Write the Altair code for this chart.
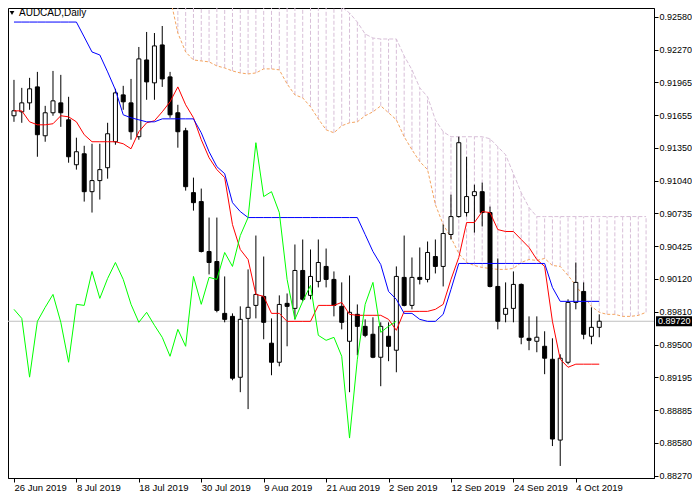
import altair as alt
import pandas as pd

# ---------------- data ----------------
symbol_title = "AUDCAD,Daily"

opens = [0.91650, 0.91687, 0.91771, 0.91921, 0.91462, 0.91678, 0.91771, 0.91612, 0.91190, 0.91293,
         0.90937, 0.91041, 0.91162, 0.91406, 0.91846, 0.91771, 0.91453, 0.92174, 0.91959, 0.92315,
         0.92015, 0.91678, 0.91509, 0.90928, 0.90844, 0.90375, 0.90281, 0.89794, 0.89766, 0.89194,
         0.89747, 0.89869, 0.89953, 0.89514, 0.89335, 0.89888, 0.89841, 0.90197, 0.89963, 0.90094,
         0.90235, 0.90113, 0.89860, 0.89532, 0.89785, 0.89672, 0.89598, 0.89382, 0.89579, 0.89448,
         0.90132, 0.89869, 0.90132, 0.90113, 0.90328, 0.90235, 0.90535, 0.90703, 0.90741, 0.90900,
         0.90937, 0.90741, 0.90047, 0.89785, 0.89841, 0.90066, 0.89560, 0.89532, 0.89485, 0.89363,
         0.88604, 0.89335, 0.89897, 0.90000, 0.89579, 0.89663]
highs = [0.91987, 0.91912, 0.92006, 0.92062, 0.91743, 0.92071, 0.92034, 0.91828, 0.91444, 0.91368,
         0.91387, 0.91387, 0.91584, 0.91903, 0.91931, 0.91996, 0.92296, 0.92437, 0.92427, 0.92493,
         0.92062, 0.91753, 0.91537, 0.91069, 0.90966, 0.90694, 0.90694, 0.90141, 0.89794, 0.89860,
         0.90207, 0.90525, 0.90328, 0.89747, 0.89963, 0.89981, 0.90441, 0.90488, 0.90394, 0.90488,
         0.90403, 0.90188, 0.90085, 0.90150, 0.89878, 0.89738, 0.89757, 0.89710, 0.89710, 0.90235,
         0.90525, 0.90319, 0.90413, 0.90469, 0.90488, 0.90628, 0.90909, 0.91453, 0.91265, 0.91003,
         0.91022, 0.90797, 0.90310, 0.90085, 0.90188, 0.90075, 0.89766, 0.89766, 0.89626, 0.89560,
         0.89410, 0.89926, 0.90272, 0.90085, 0.89851, 0.89785]
lows = [0.91593, 0.91584, 0.91706, 0.91265, 0.91406, 0.91650, 0.91546, 0.91209, 0.91144, 0.90844,
        0.90741, 0.90863, 0.91059, 0.91378, 0.91706, 0.91425, 0.91425, 0.91800, 0.91800, 0.91921,
        0.91631, 0.91350, 0.90947, 0.90759, 0.90366, 0.90160, 0.89804, 0.89710, 0.89166, 0.89054,
        0.88895, 0.89747, 0.89551, 0.89213, 0.89297, 0.89485, 0.89738, 0.89907, 0.89926, 0.90038,
        0.90038, 0.89766, 0.89644, 0.89054, 0.89401, 0.89570, 0.89373, 0.89110, 0.89345, 0.89241,
        0.89860, 0.89832, 0.90066, 0.90085, 0.90169, 0.90047, 0.90488, 0.90694, 0.90703, 0.90553,
        0.90610, 0.90038, 0.89644, 0.89710, 0.89710, 0.89504, 0.89448, 0.89429, 0.89223, 0.88548,
        0.88361, 0.89316, 0.89832, 0.89551, 0.89504, 0.89570]
closes = [0.91697, 0.91771, 0.91903, 0.91472, 0.91678, 0.91790, 0.91678, 0.91265, 0.91312, 0.90937,
          0.91041, 0.91144, 0.91481, 0.91865, 0.91781, 0.91500, 0.92184, 0.91968, 0.92306, 0.91996,
          0.91659, 0.91500, 0.90984, 0.90834, 0.90375, 0.90272, 0.89822, 0.89738, 0.89185, 0.89738,
          0.89851, 0.89972, 0.89710, 0.89335, 0.89878, 0.89860, 0.90197, 0.89926, 0.90141, 0.90272,
          0.90113, 0.89869, 0.89710, 0.89804, 0.89672, 0.89588, 0.89382, 0.89672, 0.89485, 0.90141,
          0.89869, 0.90132, 0.90113, 0.90366, 0.90235, 0.90544, 0.90703, 0.91397, 0.90891, 0.90937,
          0.90741, 0.90047, 0.89720, 0.89841, 0.90066, 0.89570, 0.89541, 0.89570, 0.89373, 0.88614,
          0.89373, 0.89897, 0.90085, 0.89598, 0.89663, 0.89720]

tenkan = [0.91696, 0.91696, 0.91593, 0.91565, 0.91565, 0.91575, 0.91650, 0.91640, 0.91593, 0.91472,
          0.91406, 0.91406, 0.91406, 0.91406, 0.91387, 0.91340, 0.91500, 0.91584, 0.91603, 0.91687,
          0.91781, 0.91921, 0.91753, 0.91631, 0.91425, 0.91256, 0.91144, 0.91069, 0.90628, 0.90394,
          0.90300, 0.89972, 0.89954, 0.89794, 0.89794, 0.89719, 0.89719, 0.89719, 0.89719, 0.89869,
          0.89869, 0.89869, 0.89897, 0.89785, 0.89776, 0.89776, 0.89776, 0.89776, 0.89738, 0.89635,
          0.89813, 0.89813, 0.89813, 0.89813, 0.89832, 0.89879, 0.90113, 0.90319, 0.90647, 0.90647,
          0.90750, 0.90741, 0.90581, 0.90563, 0.90563, 0.90488, 0.90413, 0.90300, 0.90235, 0.89719,
          0.89363, 0.89288, 0.89317, 0.89317, 0.89317, 0.89317]
kijun = [0.92530, 0.92530, 0.92530, 0.92530, 0.92530, 0.92530, 0.92530, 0.92530, 0.92530, 0.92390,
         0.92249, 0.92221, 0.92062, 0.91893, 0.91659, 0.91631, 0.91612, 0.91593, 0.91593, 0.91621,
         0.91621, 0.91621, 0.91621, 0.91621, 0.91490, 0.91312, 0.91172, 0.91106, 0.90834, 0.90750,
         0.90694, 0.90694, 0.90694, 0.90694, 0.90694, 0.90694, 0.90694, 0.90694, 0.90694, 0.90694,
         0.90694, 0.90694, 0.90694, 0.90694, 0.90694, 0.90535, 0.90375, 0.90253, 0.90000, 0.89926,
         0.89794, 0.89794, 0.89738, 0.89719, 0.89719, 0.89785, 0.90019, 0.90263, 0.90263, 0.90263,
         0.90263, 0.90263, 0.90263, 0.90263, 0.90263, 0.90263, 0.90263, 0.90263, 0.90263, 0.90038,
         0.89907, 0.89907, 0.89907, 0.89907, 0.89907, 0.89907]
chikou = [0.89832, 0.89747, 0.89195, 0.89719, 0.89851, 0.89972, 0.89710, 0.89335, 0.89879, 0.89869,
          0.90188, 0.89935, 0.90122, 0.90272, 0.90113, 0.89879, 0.89710, 0.89804, 0.89682, 0.89569,
          0.89391, 0.89644, 0.89485, 0.90141, 0.89879, 0.90132, 0.90113, 0.90366, 0.90235, 0.90525,
          0.90694, 0.91397, 0.90891, 0.90937, 0.90741, 0.90113, 0.89738, 0.89907, 0.90057, 0.89588,
          0.89541, 0.89569, 0.89391, 0.88623, 0.89363, 0.89879, 0.90085, 0.89616, 0.89673, 0.89720]

span_start = 20
span_a = [0.92765, 0.92427, 0.92249, 0.92174, 0.92165, 0.92156, 0.92118, 0.92099, 0.92071, 0.92052,
          0.92043, 0.92052, 0.92090, 0.92090, 0.92081, 0.91949, 0.91846, 0.91818, 0.91734, 0.91621,
          0.91518, 0.91490, 0.91556, 0.91584, 0.91593, 0.91650, 0.91687, 0.91743, 0.91678, 0.91612,
          0.91453, 0.91331, 0.91219, 0.91144, 0.90816, 0.90628, 0.90506, 0.90357, 0.90272, 0.90244,
          0.90225, 0.90216, 0.90207, 0.90207, 0.90216, 0.90272, 0.90300, 0.90291, 0.90310, 0.90244,
          0.90235, 0.90150, 0.90057, 0.89954, 0.89860, 0.89804, 0.89785, 0.89785, 0.89766, 0.89766,
          0.89775, 0.89804]
span_b = [0.92877, 0.92877, 0.92877, 0.92877, 0.92877, 0.92877, 0.92877, 0.92877, 0.92877, 0.92877,
          0.92877, 0.92877, 0.92783, 0.92746, 0.92708, 0.92690, 0.92680, 0.92671, 0.92671, 0.92671,
          0.92671, 0.92671, 0.92671, 0.92615, 0.92530, 0.92418, 0.92380, 0.92371, 0.92371, 0.92371,
          0.92212, 0.92081, 0.91912, 0.91828, 0.91612, 0.91500, 0.91453, 0.91453, 0.91453, 0.91453,
          0.91453, 0.91434, 0.91359, 0.91284, 0.91106, 0.90928, 0.90788, 0.90703, 0.90703, 0.90703,
          0.90703, 0.90703, 0.90703, 0.90703, 0.90703, 0.90703, 0.90703, 0.90703, 0.90703, 0.90703,
          0.90703, 0.90703]

date_bars = [0, 8, 16, 24, 32, 40, 48, 56, 64, 72]
date_labels = ["26 Jun 2019", "8 Jul 2019", "18 Jul 2019", "30 Jul 2019", "9 Aug 2019",
               "21 Aug 2019", "2 Sep 2019", "12 Sep 2019", "24 Sep 2019", "4 Oct 2019"]
price_ticks = [0.92580, 0.92270, 0.91965, 0.91655, 0.91350, 0.91040, 0.90735, 0.90425,
               0.90120, 0.89810, 0.89500, 0.89195, 0.88885, 0.88580, 0.88270]
last_price = 0.89720

# ---------------- tables ----------------
n = len(opens)
candles = pd.DataFrame({"bar": list(range(n)), "open": opens, "high": highs,
                        "low": lows, "close": closes})
candles["fill"] = ["white" if c >= o else "black" for o, c in zip(opens, closes)]
ind = pd.DataFrame({"bar": list(range(n)), "tenkan": tenkan, "kijun": kijun})
chik = pd.DataFrame({"bar": list(range(len(chikou))), "chikou": chikou})
cloud = pd.DataFrame({"bar": list(range(span_start, span_start + len(span_a))),
                      "a": span_a, "b": span_b})
price = pd.DataFrame({"p": [last_price]})
one = pd.DataFrame({"t": [symbol_title]})

# ---------------- styling ----------------
W, H = 646, 470
RIGHT = 38
FONT = "Liberation Sans"
FS = 9
xscale = alt.Scale(domain=[-0.125, 81.375], nice=False, zero=False)
yscale = alt.Scale(domain=[0.88248, 0.92662], nice=False, zero=False)

labels_js = "[" + ",".join("'" + s + "'" for s in date_labels) + "]"
bars_js = "[" + ",".join(str(b) for b in date_bars) + "]"
xaxis = alt.Axis(values=date_bars, labelExpr=labels_js + "[indexof(" + bars_js + ", datum.value)]",
                 orient="bottom", tickSize=4, labelPadding=0, labelAlign="left",
                 labelBaseline="top", labelFont=FONT, labelFontSize=9.5, labelColor="black",
                 domainColor="black", tickColor="black", grid=False, title=None,
                 labelOverlap=False, labelFlush=False, labelBound=False)
yaxis = alt.Axis(values=price_ticks, format=".5f", orient="right", tickSize=4, labelPadding=1,
                 labelFont=FONT, labelFontSize=FS, labelColor="black", domainColor="black",
                 tickColor="black", grid=False, title=None, labelOverlap=False,
                 labelFlush=False, labelBound=False)


def X(f="bar"):
    return alt.X(f + ":Q", scale=xscale, axis=xaxis)


def Y(f):
    return alt.Y(f + ":Q", scale=yscale, axis=yaxis)


THISTLE = "#D8BFD8"

hatch = alt.Chart(cloud).mark_rule(color=THISTLE, strokeDash=[4, 2], strokeWidth=1, clip=True).encode(
    x=X(), y=Y("a"), y2="b:Q")
line_a = alt.Chart(cloud).mark_line(color="#F4A460", strokeDash=[3, 2], strokeWidth=1, clip=True).encode(
    x=X(), y=Y("a"))
line_b = alt.Chart(cloud).mark_line(color=THISTLE, strokeDash=[4, 2], strokeWidth=1, clip=True).encode(
    x=X(), y=Y("b"))
pline = alt.Chart(price).mark_rule(color="#C0C0C0", strokeWidth=1, clip=True).encode(y=Y("p"))
wicks = alt.Chart(candles).mark_rule(color="black", strokeWidth=1, clip=True).encode(
    x=X(), y=Y("low"), y2="high:Q")
bodies = alt.Chart(candles).mark_bar(size=4, stroke="black", strokeWidth=1, clip=True).encode(
    x=X(), y=Y("open"), y2="close:Q", fill=alt.Fill("fill:N", scale=None))
l_tenkan = alt.Chart(ind).mark_line(color="#FF0000", strokeWidth=1, clip=True).encode(x=X(), y=Y("tenkan"))
l_kijun = alt.Chart(ind).mark_line(color="#0000FF", strokeWidth=1, clip=True).encode(x=X(), y=Y("kijun"))
l_chikou = alt.Chart(chik).mark_line(color="#00FF00", strokeWidth=1, clip=True).encode(x=X(), y=Y("chikou"))

pbox = alt.Chart(price).mark_rule(color="black", strokeWidth=10).encode(
    y=Y("p"), x=alt.value(W + 2), x2=alt.value(W + RIGHT))
ptext = alt.Chart(price).mark_text(align="left", baseline="middle", color="white",
                                   font=FONT, fontSize=FS).encode(
    y=Y("p"), x=alt.value(W + 4), text=alt.Text("p:Q", format=".5f"))

tri = alt.Chart(one).mark_point(shape="triangle-down", filled=True, size=22, color="black",
                                opacity=1).encode(x=alt.value(4), y=alt.value(5))
title = alt.Chart(one).mark_text(align="left", baseline="middle", font=FONT, fontSize=10,
                                 color="black").encode(x=alt.value(11), y=alt.value(5), text="t:N")

chart = alt.layer(hatch, line_a, line_b, pline, wicks, bodies, l_tenkan, l_kijun, l_chikou,
                  pbox, ptext, tri, title).properties(
    width=W, height=H,
    autosize=alt.AutoSizeParams(type="none"),
    padding={"left": 0, "top": 0, "right": RIGHT, "bottom": 13},
    background="white"
).configure_view(stroke="black", strokeWidth=1)

chart.save("out.html", embed_options={"renderer": "svg", "actions": False})
